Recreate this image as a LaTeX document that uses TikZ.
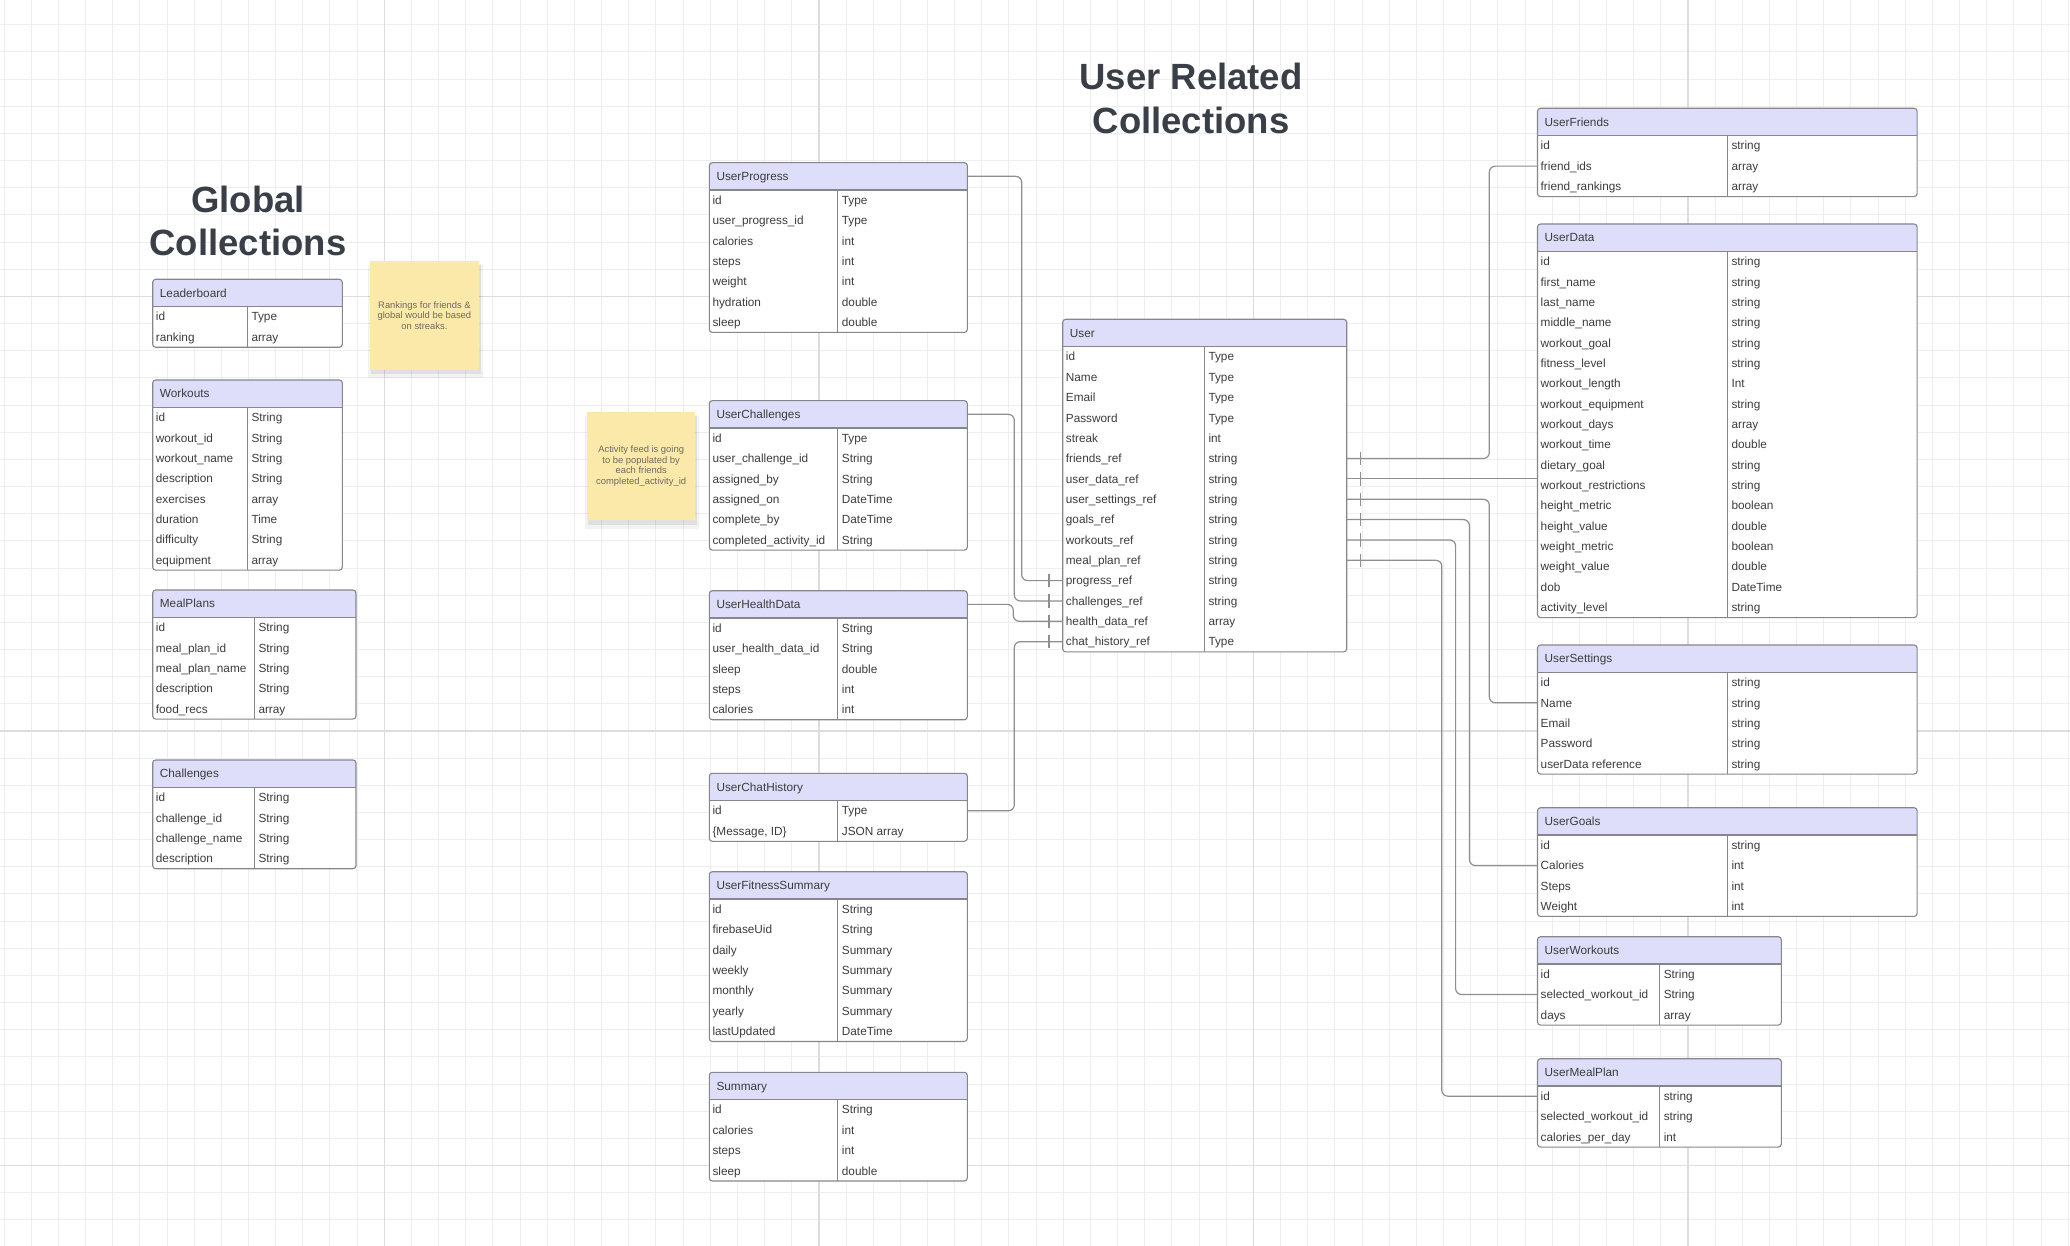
\documentclass[tikz,border=0pt]{standalone}
\usepackage{fontspec}
\setmainfont{Liberation Sans}
\usetikzlibrary{calc}
\definecolor{gridminor}{HTML}{EEEEEE}
\definecolor{gridmajor}{HTML}{DDDDDD}
\definecolor{hdrfill}{HTML}{DEDEFA}
\definecolor{bordercol}{HTML}{86868F}
\definecolor{txt}{HTML}{3C3C3C}
\definecolor{ttl}{HTML}{3A3F47}
\definecolor{connc}{HTML}{8E8E8E}
\definecolor{notefill}{HTML}{FBE9A9}
\definecolor{notetxt}{HTML}{6F6B5E}
\tikzset{
  tborder/.style={draw=bordercol, line width=1.1pt},
  cell/.style={font=\fontsize{11.8}{14}\selectfont, text=txt, inner sep=0pt},
  hdrtxt/.style={font=\fontsize{11.8}{14}\selectfont, text=txt, inner sep=0pt},
  rowbox/.style={inner sep=0pt, outer sep=0pt, minimum height=20.35pt},
  conn/.style={draw=connc, line width=1.2pt, rounded corners=6pt},
  tickmark/.style={draw=connc, line width=1.2pt},
  notebox/.style={fill=notefill, minimum width=108.5pt, minimum height=108.5pt, anchor=north west, inner sep=0pt},
  notetext/.style={font=\fontsize{9.4}{10.7}\selectfont, text=notetxt, align=center, inner sep=0pt},
  bigtitle/.style={font=\fontsize{36.5}{43.5}\selectfont\bfseries, text=ttl, align=center, inner sep=0pt},
}
% #1 name, #2 x, #3 y, #4 width, #5 first column width, #6 rows, #7 title, #8 rows list
\newcommand{\dbtable}[8]{%
  \pgfmathsetmacro{\tbh}{27.3+#6*20.35}
  \fill[white, rounded corners=3pt] (#2,#3) rectangle ++(#4,\tbh);
  \fill[hdrfill, rounded corners=3pt] (#2,#3) rectangle ++(#4,27.3);
  \fill[hdrfill] (#2,#3+12) rectangle ++(#4,15.3);
  \node[rowbox, minimum width=#4pt, minimum height=27.3pt, anchor=north west] (#1-h) at (#2,#3) {};
  \node[hdrtxt, anchor=base west] (#1-t) at ([xshift=7pt, yshift=-4.2pt]#1-h.west) {#7};
  \foreach \a/\b [count=\k from 0] in {#8}{
    \node[rowbox, minimum width=#4pt, anchor=north west] (#1-r\k) at (#2,{#3+27.3+\k*20.35}) {};
    \node[cell, anchor=base west] (#1-a\k) at ([xshift=3pt, yshift=-4.2pt]#1-r\k.west) {\a};
    \node[cell, anchor=base west] (#1-b\k) at ([xshift=#5pt+4pt, yshift=-4.2pt]#1-r\k.west) {\b};
  }
  \draw[tborder] (#2,#3+27.3) -- ++(#4,0);
  \draw[tborder] (#2+#5,#3+27.3) -- ++(0,#6*20.35);
  \draw[tborder, rounded corners=3pt] (#2,#3) rectangle ++(#4,\tbh);
}
\begin{document}
\begin{tikzpicture}[x=1pt, y=-1pt]
\useasboundingbox (0,0) rectangle (2070,1246);
\fill[white] (0,0) rectangle (2070,1246);
% grid
\foreach \k in {-14,...,62}{
  \pgfmathsetmacro{\gx}{384.3+\k*27.16}
  \draw[gridminor, line width=1pt] (\gx,0) -- (\gx,1246);
}
\foreach \k in {-26,...,18}{
  \pgfmathsetmacro{\gy}{731+\k*27.16}
  \draw[gridminor, line width=1pt] (0,\gy) -- (2070,\gy);
}
\foreach \gx in {384.3,818.9,1253.4,1687.9}{
  \draw[gridmajor, line width=1.3pt] (\gx,0) -- (\gx,1246);
}
\foreach \gy in {296.4,731,1165.6}{
  \draw[gridmajor, line width=1.3pt] (0,\gy) -- (2070,\gy);
}

% titles
\node[bigtitle] (gtitle) at (248,221) {Global\\Collections};
\node[bigtitle] (utitle) at (1191,98.5) {User Related\\Collections};

% sticky notes
\fill[black, opacity=0.05] (368,265) rectangle (483,378);
\fill[black, opacity=0.07] (371,264) rectangle (481,374);
\node[notebox] (note1) at (370,261) {};
\node[notetext] (note1t) at (note1.center) {Rankings for friends \&\\global would be based\\on streaks.};
\fill[black, opacity=0.05] (584.7,415.7) rectangle (699,528.5);
\fill[black, opacity=0.07] (587.7,414.7) rectangle (697,524.5);
\node[notebox] (note2) at (586.7,411.7) {};
\node[notetext] (note2t) at (note2.center) {Activity feed is going\\to be populated by\\each friends\\completed\_activity\_id};

% global tables
\dbtable{Leaderboard}{152.7}{279.3}{189.6}{94.6}{2}{Leaderboard}{id/Type, ranking/array}
\dbtable{Workouts}{152.7}{380}{189.6}{94.6}{8}{Workouts}{id/String, workout\_id/String, workout\_name/String, description/String, exercises/array, duration/Time, difficulty/String, equipment/array}
\dbtable{MealPlans}{152.7}{590}{203.3}{101.6}{5}{MealPlans}{id/String, meal\_plan\_id/String, meal\_plan\_name/String, description/String, food\_recs/array}
\dbtable{Challenges}{152.7}{760}{203.3}{101.6}{4}{Challenges}{id/String, challenge\_id/String, challenge\_name/String, description/String}

% middle column
\dbtable{UserProgress}{709.3}{162.7}{258}{128.4}{7}{UserProgress}{id/Type, user\_progress\_id/Type, calories/int, steps/int, weight/int, hydration/double, sleep/double}
\dbtable{UserChallenges}{709.3}{400.7}{258}{128.4}{6}{UserChallenges}{id/Type, user\_challenge\_id/String, assigned\_by/String, assigned\_on/DateTime, complete\_by/DateTime, completed\_activity\_id/String}
\dbtable{UserHealthData}{709.3}{590.7}{258}{128.4}{5}{UserHealthData}{id/String, user\_health\_data\_id/String, sleep/double, steps/int, calories/int}
\dbtable{UserChatHistory}{709.3}{773.3}{258}{128.4}{2}{UserChatHistory}{id/Type, {\{Message, ID\}}/JSON array}
\dbtable{UserFitnessSummary}{709.3}{871.7}{258}{128.4}{7}{UserFitnessSummary}{id/String, firebaseUid/String, daily/Summary, weekly/Summary, monthly/Summary, yearly/Summary, lastUpdated/DateTime}
\dbtable{Summary}{709.3}{1072.3}{258}{128.4}{4}{Summary}{id/String, calories/int, steps/int, sleep/double}

% user
\dbtable{User}{1062.7}{319.3}{284}{141.6}{15}{User}{id/Type, Name/Type, Email/Type, Password/Type, streak/int, friends\_ref/string, user\_data\_ref/string, user\_settings\_ref/string, goals\_ref/string, workouts\_ref/string, meal\_plan\_ref/string, progress\_ref/string, challenges\_ref/string, health\_data\_ref/array, chat\_history\_ref/Type}

% right column
\dbtable{UserFriends}{1537.5}{108.3}{379.6}{189.8}{3}{UserFriends}{id/string, friend\_ids/array, friend\_rankings/array}
\dbtable{UserData}{1537.5}{224}{379.6}{189.8}{18}{UserData}{id/string, first\_name/string, last\_name/string, middle\_name/string, workout\_goal/string, fitness\_level/string, workout\_length/Int, workout\_equipment/string, workout\_days/array, workout\_time/double, dietary\_goal/string, workout\_restrictions/string, height\_metric/boolean, height\_value/double, weight\_metric/boolean, weight\_value/double, dob/DateTime, activity\_level/string}
\dbtable{UserSettings}{1537.5}{645}{379.6}{189.8}{5}{UserSettings}{id/string, Name/string, Email/string, Password/string, userData reference/string}
\dbtable{UserGoals}{1537.5}{807.7}{379.6}{189.8}{4}{UserGoals}{id/string, Calories/int, Steps/int, Weight/int}
\dbtable{UserWorkouts}{1537.5}{936.7}{243.8}{122.1}{3}{UserWorkouts}{id/String, selected\_workout\_id/String, days/array}
\dbtable{UserMealPlan}{1537.5}{1058.7}{243.8}{122.1}{3}{UserMealPlan}{id/string, selected\_workout\_id/string, calories\_per\_day/int}

% connectors, left side of User
\draw[conn] (UserProgress-h.east) -- ++(54.4,0) |- (User-r11.west);
\draw[conn] (UserChallenges-h.east) -- ++(47,0) |- (User-r12.west);
\draw[conn] (UserHealthData-h.east) -- ++(46,0) |- (User-r13.west);
\draw[conn] (UserChatHistory-r0.east) -- ++(47,0) |- (User-r14.west);
\foreach \r in {11,...,14}{
  \draw[tickmark] ([xshift=-13.7pt, yshift=6.7pt]User-r\r.west) -- ++(0,13.4);
}
% connectors, right side of User
\draw[conn] (User-r5.east) -- ++(142.6,0) |- (UserFriends-r1.west);
\draw[conn] (User-r6.east) -- (User-r6.east -| UserData-h.west);
\draw[conn] (User-r7.east) -- ++(142.6,0) |- (UserSettings-r1.west);
\draw[conn] (User-r8.east) -- ++(122.7,0) |- (UserGoals-r1.west);
\draw[conn] (User-r9.east) -- ++(108.9,0) |- (UserWorkouts-r1.west);
\draw[conn] (User-r10.east) -- ++(95.1,0) |- (UserMealPlan-r0.west);
\foreach \r in {5,...,10}{
  \draw[tickmark] ([xshift=14pt, yshift=6.7pt]User-r\r.east) -- ++(0,13.4);
}
\end{tikzpicture}
\end{document}
